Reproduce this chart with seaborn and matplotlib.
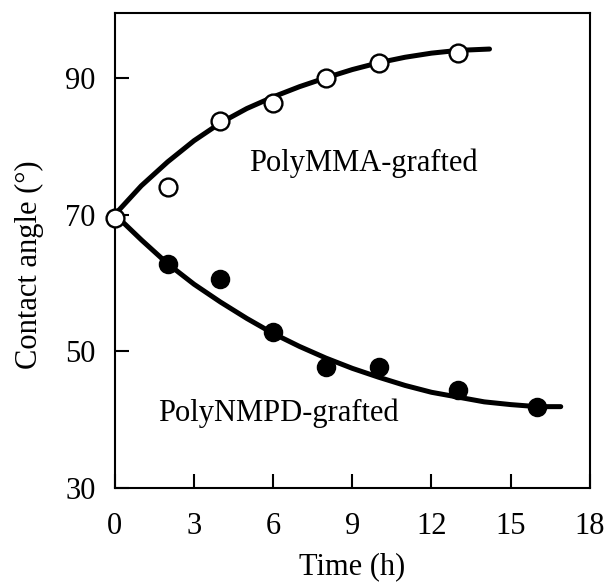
import seaborn as sns
import matplotlib.pyplot as plt
import pandas as pd

# measured points
mma_time = [0, 2, 4, 6, 8, 10, 13]
mma_angle = [69.5, 74.0, 83.7, 86.3, 89.9, 92.2, 93.6]
nmpd_time = [2, 4, 6, 8, 10, 13, 16]
nmpd_angle = [62.7, 60.5, 52.8, 47.7, 47.7, 44.3, 41.8]

# fitted curves
mma_fit_time = [0, 1, 2, 3, 4, 5, 6, 7, 8, 9, 10, 11, 12, 13, 14.2]
mma_fit_angle = [70.0, 74.2, 77.7, 80.8, 83.4, 85.5, 87.2, 88.7, 90.0, 91.2,
                 92.2, 93.0, 93.6, 94.0, 94.2]
nmpd_fit_time = [0, 1, 2, 3, 4, 5, 6, 7, 8, 9, 10, 11, 12, 13, 14, 15, 16, 16.9]
nmpd_fit_angle = [70.0, 66.3, 62.8, 59.8, 57.2, 54.8, 52.6, 50.7, 49.0, 47.5,
                  46.2, 45.0, 44.0, 43.3, 42.6, 42.2, 41.9, 41.9]

x_ticks = [0, 3, 6, 9, 12, 15, 18]
y_ticks = [30, 50, 70, 90]

sns.set_style("ticks")
plt.rcParams['font.family'] = ['Liberation Serif', 'DejaVu Serif']
plt.rcParams.update({'text.color': 'black', 'axes.labelcolor': 'black',
                     'xtick.color': 'black', 'ytick.color': 'black',
                     'axes.edgecolor': 'black'})

fig = plt.figure(figsize=(6.08, 5.82), dpi=100)
ax = fig.add_axes([0.189, 0.1615, 0.781, 0.8165])

fit_mma = pd.DataFrame({'t': mma_fit_time, 'a': mma_fit_angle})
fit_nmpd = pd.DataFrame({'t': nmpd_fit_time, 'a': nmpd_fit_angle})
sns.lineplot(data=fit_mma, x='t', y='a', ax=ax, color='black', lw=3.6, zorder=2)
sns.lineplot(data=fit_nmpd, x='t', y='a', ax=ax, color='black', lw=3.6, zorder=2)

pts_nmpd = pd.DataFrame({'t': nmpd_time, 'a': nmpd_angle})
pts_mma = pd.DataFrame({'t': mma_time, 'a': mma_angle})
sns.scatterplot(data=pts_nmpd, x='t', y='a', ax=ax, color='black', s=165,
                edgecolor='black', linewidth=1.2, zorder=3, clip_on=False)
sns.scatterplot(data=pts_mma, x='t', y='a', ax=ax, color='white', s=165,
                edgecolor='black', linewidth=1.7, zorder=4, clip_on=False)

ax.text(9.4, 77.5, "PolyMMA-grafted", fontsize=22, ha='center', va='center')
ax.text(6.2, 41.0, "PolyNMPD-grafted", fontsize=22, ha='center', va='center')

ax.set_xlim(0, 18)
ax.set_ylim(30, 99.5)
ax.set_xticks(x_ticks)
ax.set_yticks(y_ticks)
ax.tick_params(axis='both', direction='in', length=10, width=1.5, labelsize=22)
ax.tick_params(axis='x', pad=17)
ax.tick_params(axis='y', pad=14)
for s in ax.spines.values():
    s.set_linewidth(1.5)
    s.set_visible(True)

ax.set_xlabel("Time (h)", fontsize=22, labelpad=8)
ax.set_ylabel("Contact angle (°)", fontsize=22)
ax.yaxis.set_label_coords(-0.149, 0.47)

plt.savefig("out.png", dpi=100)
plt.close()
